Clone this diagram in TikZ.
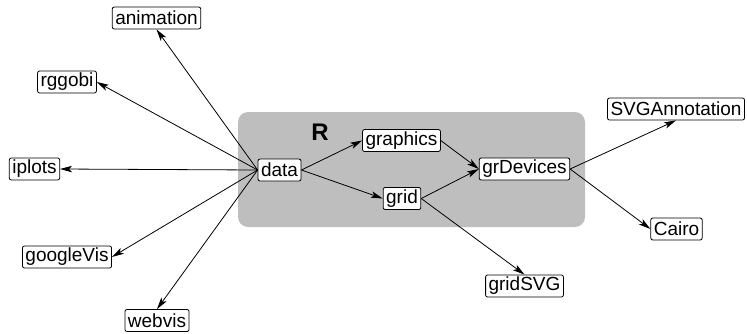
\documentclass[tikz,border=0pt]{standalone}
\usepackage{fontspec}
\setmainfont{Liberation Sans}
\usetikzlibrary{arrows.meta}
\begin{document}
\begin{tikzpicture}[x=1pt,y=-1pt,
  pkg/.style={draw=black,fill=white,rounded corners=2pt,line width=0.8pt,
    inner xsep=3pt,inner ysep=1pt,minimum height=22pt,
    font=\fontsize{19}{20}\selectfont},
  conn/.style={draw=black,line width=0.8pt,-{Stealth[length=12pt,width=6.5pt,inset=3pt]}}]
\useasboundingbox (0,0) rectangle (747,333);
\fill[fill={rgb,255:red,190;green,190;blue,190},rounded corners=10pt] (238,112) rectangle (585,227);
\node[font=\fontsize{24}{25}\selectfont\bfseries] (R) at (320,132) {R};
\node[pkg] (animation) at (156.5,18) {animation};
\node[pkg] (rggobi) at (67,82) {rggobi};
\node[pkg] (iplots) at (34.5,169) {iplots};
\node[pkg] (googleVis) at (67,257) {googleVis};
\node[pkg] (webvis) at (157,320.5) {webvis};
\node[pkg] (data) at (279.5,170) {data};
\node[pkg] (graphics) at (401.5,140.5) {graphics};
\node[pkg] (grid) at (402,198.5) {grid};
\node[pkg] (grDevices) at (524.5,169) {grDevices};
\node[pkg] (SVGAnnotation) at (676,109) {SVGAnnotation};
\node[pkg] (Cairo) at (676.5,229) {Cairo};
\node[pkg] (gridSVG) at (524.5,286) {gridSVG};
\draw[conn] (data.west) -- (animation.south);
\draw[conn] (data.west) -- (rggobi.east);
\draw[conn] (data.west) -- (iplots.east);
\draw[conn] (data.west) -- (googleVis.east);
\draw[conn] (data.west) -- (webvis.north);
\draw[conn] (data.east) -- (graphics.west);
\draw[conn] (data.east) -- (grid.west);
\draw[conn] (graphics.east) -- (grDevices.west);
\draw[conn] (grid.east) -- (grDevices.west);
\draw[conn] (grid.east) -- (gridSVG.north);
\draw[conn] (grDevices.east) -- (SVGAnnotation.south);
\draw[conn] (grDevices.east) -- (Cairo.west);
\end{tikzpicture}
\end{document}
